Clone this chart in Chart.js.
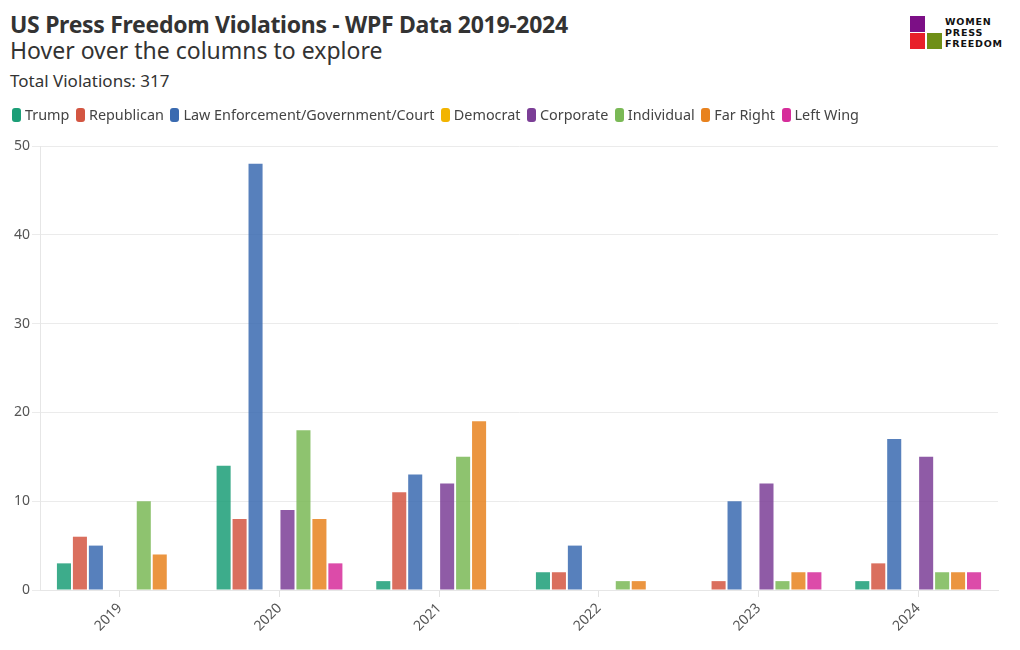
<!DOCTYPE html>
<html>
<head>
<meta charset="utf-8">
<script src="https://cdn.jsdelivr.net/npm/chart.js@4.4.1/dist/chart.umd.min.js"></script>
<style>
  body { margin: 0; background: #fff; font-family: "Source Sans Pro", "Noto Sans", sans-serif; color: #333; }
  #wrap { position: relative; width: 1020px; height: 650px; overflow: hidden; }
  .title { position: absolute; left: 10px; top: 8px; font-size: 23px; font-weight: 700; color: #333; letter-spacing: -0.3px; }
  .subtitle { position: absolute; left: 10px; top: 34px; font-size: 23px; font-weight: 400; color: #333; }
  .total { position: absolute; left: 10px; top: 69px; font-size: 17px; color: #333; }
  .logo { position: absolute; left: 910px; top: 16px; width: 100px; height: 34px; }
  .sq { position: absolute; width: 15px; height: 16px; }
  .logo-text { position: absolute; left: 35px; top: 0; font-size: 9.5px; line-height: 11px; font-weight: 700; letter-spacing: 0.8px; color: #111; font-family: "DejaVu Sans", sans-serif; }
  #legend { position: absolute; left: 12px; top: 105px; display: flex; font-size: 14.4px; color: #444; z-index: 2; }
  #legend .item { display: flex; align-items: center; margin-right: 6.5px; white-space: nowrap; }
  #legend .box { width: 9px; height: 14px; border-radius: 3px; margin-right: 4px; }
  #chartBox { position: absolute; left: 0; top: 101px; width: 1020px; height: 549px; }
</style>
</head>
<body>
<div id="wrap">
  <div class="title">US Press Freedom Violations - WPF Data 2019-2024</div>
  <div class="subtitle">Hover over the columns to explore</div>
  <div class="total">Total Violations: 317</div>
  <div class="logo">
    <div class="sq" style="left:0;top:0;background:#7c0f86"></div>
    <div class="sq" style="left:0;top:17px;background:#e8202a"></div>
    <div class="sq" style="left:17px;top:17px;background:#6f8f17"></div>
    <div class="logo-text">WOMEN<br>PRESS<br>FREEDOM</div>
  </div>
  <div id="legend"></div>
  <div id="chartBox"><canvas id="violationsChart"></canvas></div>
</div>
<script>
const years = ['2019', '2020', '2021', '2022', '2023', '2024'];

const trump = [3, 14, 1, 2, 0, 1];
const republican = [6, 8, 11, 2, 1, 3];
const lawEnforcement = [5, 48, 13, 5, 10, 17];
const democrat = [0, 0, 0, 0, 0, 0];
const corporate = [0, 9, 12, 0, 12, 15];
const individual = [10, 18, 15, 1, 1, 2];
const farRight = [4, 8, 19, 1, 2, 2];
const leftWing = [0, 3, 0, 0, 2, 2];

const yTicks = [0, 10, 20, 30, 40, 50];

const series = [
    { label: 'Trump', data: trump, color: '27, 158, 119' },
    { label: 'Republican', data: republican, color: '211, 86, 66' },
    { label: 'Law Enforcement/Government/Court', data: lawEnforcement, color: '58, 106, 176' },
    { label: 'Democrat', data: democrat, color: '242, 180, 0' },
    { label: 'Corporate', data: corporate, color: '123, 62, 150' },
    { label: 'Individual', data: individual, color: '122, 185, 86' },
    { label: 'Far Right', data: farRight, color: '232, 130, 30' },
    { label: 'Left Wing', data: leftWing, color: '214, 44, 154' },
];

const tickFont = { family: '"Noto Sans", sans-serif', size: 14 };

// legend as html so the box/text spacing matches
const legendEl = document.getElementById('legend');
series.forEach((s) => {
    const item = document.createElement('div');
    item.className = 'item';
    item.innerHTML = '<span class="box" style="background:rgb(' + s.color + ')"></span>' + s.label;
    legendEl.appendChild(item);
});

const chart = new Chart(document.getElementById('violationsChart').getContext('2d'), {
    type: 'bar',
    data: {
        labels: years,
        datasets: series.map((s) => ({
            label: s.label,
            data: s.data,
            backgroundColor: 'rgba(' + s.color + ', 0.85)',
            borderWidth: 0,
            categoryPercentage: 0.8,
            barPercentage: 0.88,
        })),
    },
    options: {
        responsive: true,
        maintainAspectRatio: false,
        animation: false,
        layout: { padding: { left: 6, right: 22, top: 45, bottom: 0 } },
        plugins: {
            legend: { display: false },
            tooltip: { enabled: true },
        },
        scales: {
            x: {
                grid: { offset: false, drawOnChartArea: false, drawTicks: true, tickLength: 7, color: '#e3e3e3' },
                border: { color: '#e6e6e6' },
                ticks: { color: '#555', font: tickFont, maxRotation: 45, minRotation: 45 },
                afterFit: (axis) => { axis.height = 60; },
            },
            y: {
                min: 0,
                max: 50,
                afterBuildTicks: (axis) => { axis.ticks = yTicks.map((v) => ({ value: v })); },
                grid: { color: '#ebebeb', tickLength: 8 },
                border: { color: '#e6e6e6' },
                ticks: { color: '#555', font: tickFont, padding: 2 },
                afterFit: (axis) => { axis.width = 34; },
            },
        },
    },
});
</script>
</body>
</html>
